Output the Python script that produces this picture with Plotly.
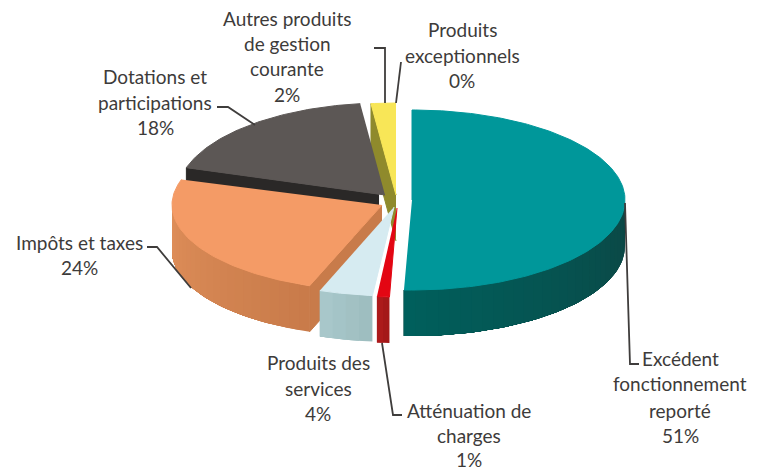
import numpy as np
import plotly.graph_objects as go

categories = ["Excédent fonctionnement reporté", "Atténuation de charges", "Produits des services",
              "Impôts et taxes", "Dotations et participations",
              "Autres produits de gestion courante", "Produits exceptionnels"]
values = [50.6, 1.0, 4.0, 24.2, 18.3, 1.9, 0.0]
percent_labels = ["51%", "1%", "4%", "24%", "18%", "2%", "0%"]
top_colors = ["#00979a", "#e30613", "#d6ebf1", "#f49b66", "#5c5755", "#f8e657", "#f8e657"]
wall_left = ["#005f5c", "#b01a1c", "#a9c9cc", "#e08f5a", "#2a2827", "#8f8a2c", "#8f8a2c"]
wall_right = ["#0c4644", "#a01818", "#9dbcbe", "#c87b4a", "#2a2827", "#8f8a2c", "#8f8a2c"]

# pie geometry per slice (exploded centre in chart units)
cx = [412, 397, 394, 382, 385, 396, 396]
cy = [200, 208, 207, 205, 195, 195, 195]
rx = [213, 200, 215, 210, 208, 210, 210]
ry = [90, 89, 89, 86, 92, 92, 92]
depth = 46

label_lines = {
    0: (680, [358, 383, 410, 435], ["Excédent", "fonctionnement", "reporté"]),
    1: (469, [410, 435, 459], ["Atténuation de", "charges"]),
    2: (318, [362, 388, 413], ["Produits des", "services"]),
    3: (79, [242, 267], ["Impôts et taxes"]),
    4: (155, [76, 102, 127], ["Dotations et", "participations"]),
    5: (287, [18, 43, 68, 94], ["Autres produits", "de gestion", "courante"]),
    6: (462, [29, 55, 80], ["Produits", "exceptionnels"]),
}
leaders = [
    [(625, 203), (630, 364), (639, 364)],
    [(382, 343), (393, 415), (402, 415)],
    [(147, 247), (157, 247), (191, 288)],
    [(217, 107), (228, 107), (255, 125)],
    [(374, 48), (385, 48), (385, 103)],
    [(401, 62), (396, 103)],
]

ends = np.cumsum(values) / sum(values) * 360
starts = np.concatenate([[0], ends[:-1]])

fig = go.Figure()


def poly(xs, ys, color, name, width=1):
    fig.add_trace(go.Scatter(x=list(xs), y=list(ys), mode="lines", fill="toself", fillcolor=color,
                             line=dict(color=color, width=width), hoverinfo="skip", name=name, showlegend=False))


def pt(i, deg, r=1.0):
    a = np.radians(deg)
    return cx[i] + r * rx[i] * np.sin(a), cy[i] - r * ry[i] * np.cos(a)


def mix(c1, c2, t):
    a = [int(c1[k:k + 2], 16) for k in (1, 3, 5)]
    b = [int(c2[k:k + 2], 16) for k in (1, 3, 5)]
    return "rgb(%d,%d,%d)" % tuple(round(p + (q - p) * t) for p, q in zip(a, b))


def rim(i):
    lo, hi = max(starts[i], 90), min(ends[i], 270)
    if hi <= lo:
        return
    steps = max(2, int((hi - lo) / 3))
    grid = np.linspace(lo, hi, steps + 1)
    for k in range(steps):
        # each strip runs on to the far end, so the next one paints over it without a seam
        seg = np.linspace(grid[k], hi, max(3, (steps - k) * 2))
        px, py = pt(i, seg)
        t = 1 - (k + 0.5) / steps
        poly(list(px) + list(px[::-1]), list(py) + list(py[::-1] + depth),
             mix(wall_left[i], wall_right[i], t), categories[i], width=0)


def radial(i, deg, reach=1.0):
    ox, oy = pt(i, deg)
    ix, iy = ox + (cx[i] - ox) * reach, oy + (cy[i] - oy) * reach
    poly([ix, ox, ox, ix], [iy, oy, oy + depth, iy + depth], wall_right[i], categories[i])


def top(i):
    seg = np.linspace(starts[i], ends[i], max(3, int(values[i] * 3.6) + 2))
    px, py = pt(i, seg)
    poly([cx[i]] + list(px), [cy[i]] + list(py), top_colors[i], categories[i])


# back to front
radial(5, starts[5])
top(5)
radial(4, starts[4], 0.97)
top(4)
rim(0)
top(0)
rim(3)
radial(3, starts[3])
top(3)
rim(2)
top(2)
rim(1)
top(1)

for path in leaders:
    fig.add_trace(go.Scatter(x=[p[0] for p in path], y=[p[1] for p in path], mode="lines",
                             line=dict(color="#3f3d3c", width=1.8), hoverinfo="skip", showlegend=False))

for i, (xc, ys, lines) in label_lines.items():
    for text, y in zip(lines + [percent_labels[i]], ys):
        fig.add_annotation(x=xc, y=y, text=text, showarrow=False, xanchor="center", yanchor="middle",
                           font=dict(family="Lato", size=19, color="#3d3b3a"))

fig.update_xaxes(range=[0, 764], visible=False, fixedrange=True)
fig.update_yaxes(range=[471, 0], visible=False, fixedrange=True)
fig.update_layout(width=764, height=471, margin=dict(l=0, r=0, t=0, b=0),
                  paper_bgcolor="white", plot_bgcolor="white", showlegend=False)
fig.write_html("out.html", config={"displayModeBar": False},
               post_script="document.body.style.margin='0';document.documentElement.style.overflow='hidden';")
